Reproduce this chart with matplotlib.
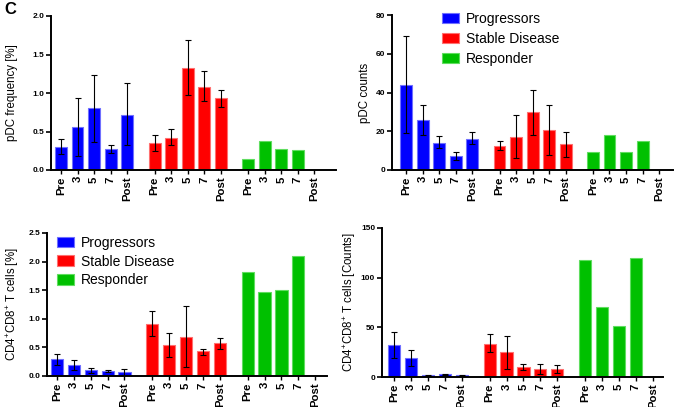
import matplotlib
matplotlib.use("Agg")
import matplotlib.pyplot as plt
from matplotlib.patches import Patch
import numpy as np

plt.rcParams['font.family'] = ['Liberation Sans', 'DejaVu Sans']
plt.rcParams['mathtext.default'] = 'regular'

timepoints = ["Pre", "3", "5", "7", "Post"]
groups = ["Progressors", "Stable Disease", "Responder"]
colors = ["#0000FF", "#FF0000", "#00C000"]
edgecolors = ["#7070FF", "#FF7070", "#60DD60"]

# pDC frequency [%]  (mean, low, high)
pdc_freq = [[0.30, 0.56, 0.80, 0.27, 0.72],
            [0.35, 0.42, 1.33, 1.08, 0.93],
            [0.14, 0.38, 0.27, 0.26, np.nan]]
pdc_freq_lo = [[0.21, 0.18, 0.37, 0.22, 0.32],
               [0.25, 0.32, 0.97, 0.89, 0.82],
               [np.nan] * 5]
pdc_freq_hi = [[0.40, 0.94, 1.24, 0.33, 1.13],
               [0.46, 0.53, 1.69, 1.28, 1.04],
               [np.nan] * 5]

# pDC counts
pdc_cnt = [[44.1, 25.6, 14.1, 7.2, 16.1],
           [12.5, 17.2, 29.7, 20.8, 13.2],
           [9.1, 18.0, 9.1, 15.1, np.nan]]
pdc_cnt_lo = [[19.2, 17.9, 11.2, 5.3, 13.2],
              [10.5, 6.0, 18.0, 7.9, 6.5],
              [np.nan] * 5]
pdc_cnt_hi = [[69.4, 33.6, 17.5, 9.1, 19.4],
              [14.8, 28.3, 41.2, 33.8, 19.7],
              [np.nan] * 5]

# CD4+CD8+ T cells [%]
dp_freq = [[0.29, 0.20, 0.105, 0.09, 0.07],
           [0.91, 0.54, 0.69, 0.43, 0.57],
           [1.815, 1.47, 1.505, 2.10, np.nan]]
dp_freq_lo = [[0.19, 0.105, 0.06, 0.076, 0.01],
              [0.70, 0.33, 0.16, 0.375, 0.47],
              [np.nan] * 5]
dp_freq_hi = [[0.39, 0.275, 0.146, 0.10, 0.117],
              [1.13, 0.755, 1.22, 0.47, 0.67],
              [np.nan] * 5]

# CD4+CD8+ T cells [Counts]
dp_cnt = [[32.7, 18.9, 2.0, 2.7, 1.8],
          [33.7, 24.9, 10.1, 8.4, 8.4],
          [118.0, 70.1, 50.9, 120.0, np.nan]]
dp_cnt_lo = [[19.5, 10.8, 1.5, 2.0, 1.4],
             [24.9, 8.4, 7.1, 3.4, 4.0],
             [np.nan] * 5]
dp_cnt_hi = [[45.8, 27.6, 2.4, 3.4, 2.2],
             [42.8, 41.5, 13.1, 13.1, 12.5],
             [np.nan] * 5]

group_offset = 5.65

fig = plt.figure(figsize=(6.77, 4.07), dpi=100)


def panel(rect, vals, lo, hi, ylim, yticks, fmt, ylabel, xlim, labelpad):
    ax = fig.add_axes(rect)
    allpos = []
    alllab = []
    for g in range(3):
        pos = np.arange(5) + g * group_offset
        v = np.array(vals[g], dtype=float)
        ax.bar(pos, np.nan_to_num(v), width=0.72, color=colors[g],
               edgecolor=edgecolors[g], linewidth=0.8, zorder=2)
        l = np.array(lo[g], dtype=float)
        h = np.array(hi[g], dtype=float)
        mask = ~np.isnan(l)
        if mask.any():
            ax.errorbar(pos[mask], v[mask],
                        yerr=[v[mask] - l[mask], h[mask] - v[mask]],
                        fmt='none', ecolor='black', elinewidth=0.8,
                        capsize=2.3, capthick=0.8, zorder=3)
        allpos.extend(pos)
        alllab.extend(timepoints)
    ax.set_xticks(allpos)
    ax.set_xticklabels(alllab, rotation=90, fontsize=8.2, fontweight='bold')
    ax.set_xlim(*xlim)
    ax.set_ylim(*ylim)
    ax.set_yticks(yticks)
    ax.set_yticklabels([fmt.format(t) for t in yticks], fontsize=6,
                       fontweight='bold')
    ax.set_ylabel(ylabel, fontsize=8.3, labelpad=labelpad)
    for s in ['top', 'right']:
        ax.spines[s].set_visible(False)
    for s in ['left', 'bottom']:
        ax.spines[s].set_linewidth(1.4)
    ax.tick_params(axis='y', length=3.5, width=1.2, pad=1.5)
    ax.tick_params(axis='x', length=3, width=1.0, pad=1.5)
    return ax


ax1 = panel([51 / 677, 1 - 170 / 407, 285 / 677, 154 / 407],
            pdc_freq, pdc_freq_lo, pdc_freq_hi, (0, 2.0),
            [0, 0.5, 1.0, 1.5, 2.0], "{:.1f}", "pDC frequency [%]",
            (-0.6, 16.6), 10)
ax2 = panel([392 / 677, 1 - 170 / 407, 281 / 677, 155 / 407],
            pdc_cnt, pdc_cnt_lo, pdc_cnt_hi, (0, 80),
            [0, 20, 40, 60, 80], "{:.0f}", "pDC counts",
            (-0.85, 16.14), 3)
ax3 = panel([47 / 677, 1 - 376 / 407, 280 / 677, 143 / 407],
            dp_freq, dp_freq_lo, dp_freq_hi, (0, 2.5),
            [0, 0.5, 1.0, 1.5, 2.0, 2.5], "{:.1f}",
            r"CD4$^{+}$CD8$^{+}$ T cells [%]", (-0.59, 16.0), 5)
ax4 = panel([382 / 677, 1 - 377 / 407, 281 / 677, 149 / 407],
            dp_cnt, dp_cnt_lo, dp_cnt_hi, (0, 150),
            [0, 50, 100, 150], "{:.0f}",
            r"CD4$^{+}$CD8$^{+}$ T cells [Counts]", (-0.71, 15.9), 2)

handles = [Patch(facecolor=c, edgecolor=e, linewidth=0.8)
           for c, e in zip(colors, edgecolors)]
for ax, x0, y0, sp in [(ax2, 442, 12, 0.42), (ax3, 57, 236, 0.33)]:
    ax.legend(handles, groups, loc='upper left',
              bbox_to_anchor=(x0 / 677, 1 - y0 / 407),
              bbox_transform=fig.transFigure, frameon=False,
              fontsize=10, handlelength=1.25, handleheight=0.8,
              handletextpad=0.5, labelspacing=sp, borderpad=0,
              borderaxespad=0)

fig.text(4 / 677, 1 - 10 / 407, "C", fontsize=12, fontweight='bold',
         va='center', ha='left')

fig.savefig("out.png", dpi=100)
